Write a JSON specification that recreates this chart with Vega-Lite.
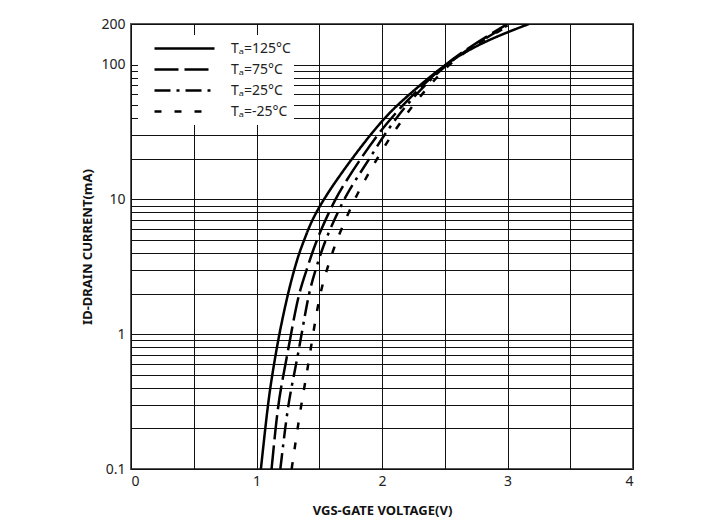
{
  "$schema": "https://vega.github.io/schema/vega-lite/v6.json",
  "width": 502,
  "height": 445,
  "autosize": {"type": "none"},
  "padding": {"left": 131, "top": 24, "right": 80, "bottom": 60},
  "background": "white",
  "config": {
    "view": {"stroke": "#555", "strokeWidth": 2},
    "font": "Noto Sans"
  },
  "data": {
    "values": [
      {"temp": "Tₐ=125°C", "v": 1.035, "i": 0.1},
      {"temp": "Tₐ=125°C", "v": 1.09, "i": 0.3},
      {"temp": "Tₐ=125°C", "v": 1.125, "i": 0.5},
      {"temp": "Tₐ=125°C", "v": 1.18, "i": 1},
      {"temp": "Tₐ=125°C", "v": 1.25, "i": 2},
      {"temp": "Tₐ=125°C", "v": 1.3, "i": 3},
      {"temp": "Tₐ=125°C", "v": 1.34, "i": 4},
      {"temp": "Tₐ=125°C", "v": 1.38, "i": 5},
      {"temp": "Tₐ=125°C", "v": 1.44, "i": 7},
      {"temp": "Tₐ=125°C", "v": 1.535, "i": 10},
      {"temp": "Tₐ=125°C", "v": 1.64, "i": 14},
      {"temp": "Tₐ=125°C", "v": 1.76, "i": 20},
      {"temp": "Tₐ=125°C", "v": 1.905, "i": 30},
      {"temp": "Tₐ=125°C", "v": 2.02, "i": 40},
      {"temp": "Tₐ=125°C", "v": 2.12, "i": 50},
      {"temp": "Tₐ=125°C", "v": 2.3, "i": 70},
      {"temp": "Tₐ=125°C", "v": 2.5, "i": 100},
      {"temp": "Tₐ=125°C", "v": 2.7, "i": 130},
      {"temp": "Tₐ=125°C", "v": 2.9, "i": 160},
      {"temp": "Tₐ=125°C", "v": 3.17, "i": 200},

      {"temp": "Tₐ=75°C", "v": 1.12, "i": 0.1},
      {"temp": "Tₐ=75°C", "v": 1.17, "i": 0.3},
      {"temp": "Tₐ=75°C", "v": 1.215, "i": 0.5},
      {"temp": "Tₐ=75°C", "v": 1.275, "i": 1},
      {"temp": "Tₐ=75°C", "v": 1.335, "i": 2},
      {"temp": "Tₐ=75°C", "v": 1.4, "i": 3},
      {"temp": "Tₐ=75°C", "v": 1.45, "i": 4.2},
      {"temp": "Tₐ=75°C", "v": 1.515, "i": 6},
      {"temp": "Tₐ=75°C", "v": 1.625, "i": 10},
      {"temp": "Tₐ=75°C", "v": 1.72, "i": 14},
      {"temp": "Tₐ=75°C", "v": 1.83, "i": 20},
      {"temp": "Tₐ=75°C", "v": 1.96, "i": 30},
      {"temp": "Tₐ=75°C", "v": 2.16, "i": 50},
      {"temp": "Tₐ=75°C", "v": 2.34, "i": 72},
      {"temp": "Tₐ=75°C", "v": 2.5, "i": 100},
      {"temp": "Tₐ=75°C", "v": 2.7, "i": 135},
      {"temp": "Tₐ=75°C", "v": 2.85, "i": 165},
      {"temp": "Tₐ=75°C", "v": 3.0, "i": 200},

      {"temp": "Tₐ=25°C", "v": 1.19, "i": 0.1},
      {"temp": "Tₐ=25°C", "v": 1.25, "i": 0.3},
      {"temp": "Tₐ=25°C", "v": 1.3, "i": 0.5},
      {"temp": "Tₐ=25°C", "v": 1.36, "i": 1},
      {"temp": "Tₐ=25°C", "v": 1.415, "i": 2},
      {"temp": "Tₐ=25°C", "v": 1.47, "i": 3},
      {"temp": "Tₐ=25°C", "v": 1.52, "i": 4.2},
      {"temp": "Tₐ=25°C", "v": 1.585, "i": 6},
      {"temp": "Tₐ=25°C", "v": 1.695, "i": 10},
      {"temp": "Tₐ=25°C", "v": 1.79, "i": 14},
      {"temp": "Tₐ=25°C", "v": 1.9, "i": 20},
      {"temp": "Tₐ=25°C", "v": 2.015, "i": 30},
      {"temp": "Tₐ=25°C", "v": 2.19, "i": 50},
      {"temp": "Tₐ=25°C", "v": 2.355, "i": 72},
      {"temp": "Tₐ=25°C", "v": 2.51, "i": 100},
      {"temp": "Tₐ=25°C", "v": 2.72, "i": 137},
      {"temp": "Tₐ=25°C", "v": 2.88, "i": 168},
      {"temp": "Tₐ=25°C", "v": 3.02, "i": 200},

      {"temp": "Tₐ=-25°C", "v": 1.28, "i": 0.1},
      {"temp": "Tₐ=-25°C", "v": 1.355, "i": 0.3},
      {"temp": "Tₐ=-25°C", "v": 1.4, "i": 0.5},
      {"temp": "Tₐ=-25°C", "v": 1.45, "i": 1},
      {"temp": "Tₐ=-25°C", "v": 1.505, "i": 2},
      {"temp": "Tₐ=-25°C", "v": 1.56, "i": 3},
      {"temp": "Tₐ=-25°C", "v": 1.61, "i": 4.2},
      {"temp": "Tₐ=-25°C", "v": 1.675, "i": 6},
      {"temp": "Tₐ=-25°C", "v": 1.78, "i": 10},
      {"temp": "Tₐ=-25°C", "v": 1.865, "i": 14},
      {"temp": "Tₐ=-25°C", "v": 1.96, "i": 20},
      {"temp": "Tₐ=-25°C", "v": 2.075, "i": 30},
      {"temp": "Tₐ=-25°C", "v": 2.245, "i": 50},
      {"temp": "Tₐ=-25°C", "v": 2.39, "i": 72},
      {"temp": "Tₐ=-25°C", "v": 2.53, "i": 100},
      {"temp": "Tₐ=-25°C", "v": 2.73, "i": 138},
      {"temp": "Tₐ=-25°C", "v": 2.9, "i": 170},
      {"temp": "Tₐ=-25°C", "v": 3.03, "i": 200}
    ]
  },
  "mark": {"type": "line", "color": "black", "strokeWidth": 2.5, "interpolate": "basis", "clip": true},
  "encoding": {
    "x": {
      "field": "v", "type": "quantitative",
      "scale": {"domain": [0, 4], "nice": false, "zero": false},
      "axis": {
        "title": "VGS-GATE VOLTAGE(V)",
        "values": [0, 0.5, 1, 1.5, 2, 2.5, 3, 3.5, 4],
        "labelExpr": "datum.value % 1 === 0 ? datum.label : ''",
        "format": "~g",
        "labelOverlap": false,
        "domain": false, "ticks": false,
        "grid": true, "gridColor": "#111", "gridWidth": 1, "gridOpacity": 1,
        "labelFontSize": 14, "labelColor": "#222", "labelPadding": 5,
        "titleFontSize": 13, "titleFontWeight": "bold", "titleColor": "#111", "titlePadding": 16
      }
    },
    "y": {
      "field": "i", "type": "quantitative",
      "scale": {"type": "log", "domain": [0.1, 200], "nice": false},
      "axis": {
        "title": "ID-DRAIN CURRENT(mA)",
        "values": [0.1, 0.2, 0.3, 0.4, 0.5, 0.6, 0.7, 0.8, 0.9, 1, 2, 3, 4, 5, 6, 7, 8, 9, 10, 20, 30, 40, 50, 60, 70, 80, 90, 100, 200],
        "labelExpr": "(datum.value == 0.1 || datum.value == 1 || datum.value == 10 || datum.value == 100 || datum.value == 200) ? datum.label : ''",
        "format": "~g",
        "labelOverlap": false,
        "domain": false, "ticks": false,
        "grid": true, "gridColor": "#111", "gridWidth": 1, "gridOpacity": 1,
        "labelFontSize": 14, "labelColor": "#222", "labelPadding": 6,
        "titleFontSize": 13, "titleFontWeight": "bold", "titleColor": "#111", "titlePadding": 6
      }
    },
    "strokeDash": {
      "field": "temp", "type": "nominal",
      "scale": {
        "domain": ["Tₐ=125°C", "Tₐ=75°C", "Tₐ=25°C", "Tₐ=-25°C"],
        "range": [[1, 0], [24, 6], [16, 6, 3, 6], [7, 13]]
      },
      "legend": {
        "title": null,
        "orient": "none",
        "legendX": 7,
        "legendY": 11,
        "fillColor": "white",
        "padding": 3,
        "clipHeight": 21,
        "symbolType": "stroke",
        "symbolSize": 3600,
        "symbolStrokeWidth": 2.5,
        "symbolStrokeColor": "black",
        "symbolOffset": 12,
        "labelFontSize": 14,
        "labelColor": "#222",
        "labelOffset": 15,
        "rowPadding": 0
      }
    }
  }
}
